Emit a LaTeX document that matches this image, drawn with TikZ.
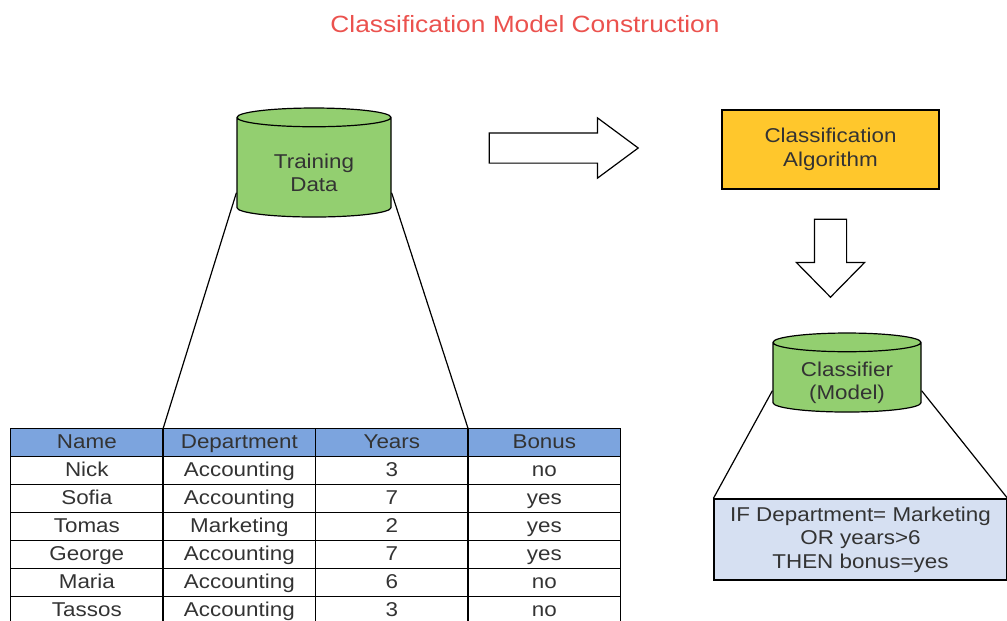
\documentclass[tikz,border=0pt]{standalone}
\usepackage{fontspec}
\setmainfont{Liberation Sans}[FakeStretch=1.12]
\usetikzlibrary{shapes.geometric,shapes.arrows,matrix}

\definecolor{cylgreen}{RGB}{147,207,112}
\definecolor{algoyellow}{RGB}{255,199,44}
\definecolor{ruleblue}{RGB}{214,224,242}
\definecolor{hdrblue}{RGB}{124,164,222}
\definecolor{titlered}{RGB}{235,82,78}
\definecolor{txtgray}{RGB}{51,51,51}

\newcommand{\sunk}[1]{\raisebox{-5.5pt}[\height][\depth]{#1}}

\begin{document}
\begin{tikzpicture}[
        x=1pt, y=1pt,
        line width=1.2pt,
        every node/.style={font=\fontsize{20}{23.5}\selectfont, text=txtgray},
        store/.style={cylinder, shape border rotate=90, draw, fill=cylgreen, align=center, inner sep=0pt},
        box/.style={rectangle, draw, align=center, inner sep=0pt},
        bigarrow/.style={single arrow, draw, fill=white}
      ]
      \useasboundingbox (0,0) rectangle (1007,-621);
      \node[font=\fontsize{23.5}{27}\selectfont, text=titlered] (title) at (525,-24) {Classification Model Construction};

      \node[store, minimum width=154, minimum height=109, aspect=0.234] (train) at (314,-167.5) {\sunk{Training}\\\sunk{Data}};
      \node[bigarrow, minimum height=149, inner sep=14.5, single arrow head extend=15, single arrow tip angle=73] (toalgo) at (553.5,-148) {};
      \node[box, fill=algoyellow, minimum width=217, minimum height=79] (algo) at (830.5,-149.5) {Classification\\Algorithm};
      \node[bigarrow, shape border rotate=270, minimum height=78, inner sep=15.5, single arrow head extend=18, single arrow tip angle=89] (tomodel) at (830.5,-250) {};
      \node[store, minimum width=148, minimum height=79, aspect=0.203] (model) at (847,-377.5) {\sunk{Classifier}\\\sunk{(Model)}};
      \node[box, fill=ruleblue, minimum width=293, minimum height=81] (rule) at (860.5,-539.5) {IF Department= Marketing\\OR years>6\\THEN bonus=yes};

      \matrix[matrix of nodes, anchor=north west, inner sep=0pt, outer sep=0pt,
        column sep=-1.2pt, row sep=-1.2pt,
        nodes={draw, minimum width=152.5, minimum height=28, inner sep=0pt, text height=15, text depth=3},
        row 1/.style={nodes={fill=hdrblue}}] (tbl) at (10,-428) {
        Name & Department & Years & Bonus \\
        Nick & Accounting & 3 & no \\
        Sofia & Accounting & 7 & yes \\
        Tomas & Marketing & 2 & yes \\
        George & Accounting & 7 & yes \\
        Maria & Accounting & 6 & no \\
        Tassos & Accounting & 3 & no \\
      };

      \draw (train.198) -- (tbl-1-1.north east);
      \draw (train.342) -- (tbl-1-3.north east);
      \draw (model.190) -- (rule.north west);
      \draw (model.350) -- (rule.north east);
\end{tikzpicture}
\end{document}
